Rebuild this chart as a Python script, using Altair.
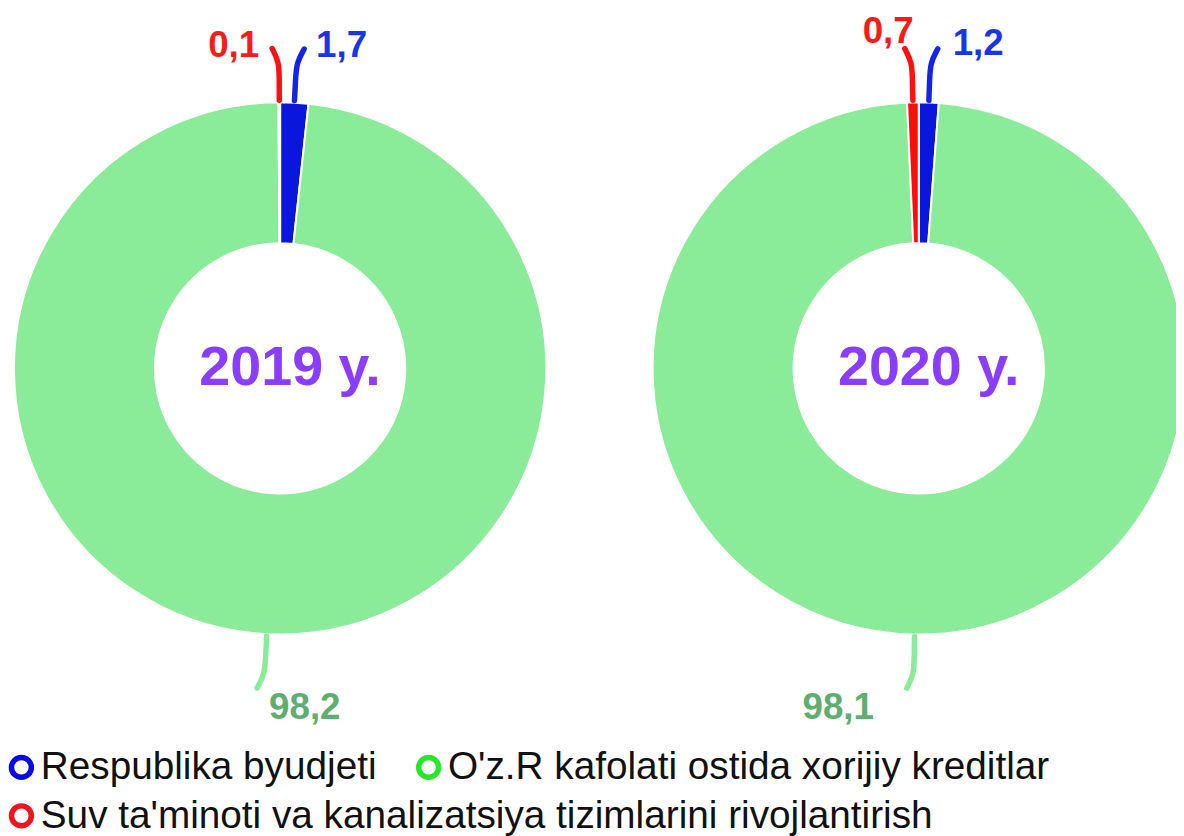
import math
import altair as alt
import pandas as pd

# ---------------- data ----------------
years = ["2019 y.", "2020 y."]
categories = [
    "Respublika byudjeti",
    "O'z.R kafolati ostida xorijiy kreditlar",
    "Suv ta'minoti va kanalizatsiya tizimlarini rivojlantirish",
]
values_2019 = [1.7, 98.2, 0.1]
values_2020 = [1.2, 98.1, 0.7]
series = [values_2019, values_2020]

# ---------------- layout / style ----------------
W, H = 1176, 828
centers = [(274, 360), (917, 360)]
R_OUT, R_IN = 268, 126
slice_colors = ["#0a16dc", "#8aeb98", "#ff0d0d"]
line_colors = ["#1424e6", "#8aeb98", "#ff1010"]
label_colors = ["#1a35e8", "#5fae70", "#ff1a1a"]
legend_colors = ["#0a0ae6", "#28e628", "#f0141e"]
title_color = "#8a3cff"
FONT = "Liberation Sans"
LEG_FONT_SIZE = 39
# label offset from the end of the leader line: (dx, dy, align)
label_nudge = {
    (0, 0): (12, -3, "left"), (0, 1): (12, 20, "left"), (0, 2): (-13, -3, "right"),
    (1, 0): (15, -5, "left"), (1, 1): (-33, 20, "right"), (1, 2): (9, -17, "right"),
}

# ---------------- derived tables ----------------
arc_rows, line_rows, lab_rows, title_rows = [], [], [], []
for i, vals in enumerate(series):
    cx, cy = centers[i]
    total = sum(vals)
    cum = 0.0
    title_rows.append({"cx": cx, "cy": cy, "txt": years[i]})
    for j, v in enumerate(vals):
        t0 = cum / total * 2 * math.pi
        cum += v
        t1 = cum / total * 2 * math.pi
        arc_rows.append({"cx": cx, "cy": cy, "t0": t0, "t1": t1,
                         "fill": slice_colors[j], "cat": categories[j]})
        m = (t0 + t1) / 2
        ux, uy = math.sin(m), -math.cos(m)
        side = -1 if ux < 0 else 1
        pts = [
            (cx + (R_OUT + 2) * ux, cy + (R_OUT + 2) * uy),
            (cx + (R_OUT + 22) * ux, cy + (R_OUT + 22) * uy),
            (cx + (R_OUT + 40) * ux, cy + (R_OUT + 40) * uy),
            (cx + (R_OUT + 54) * ux + side * 7, cy + (R_OUT + 54) * uy),
        ]
        for k, (px, py) in enumerate(pts):
            line_rows.append({"key": f"{i}-{j}", "pt": k, "px": px, "py": py,
                              "lc": line_colors[j]})
        dx, dy, al = label_nudge[(i, j)]
        ex, ey = pts[-1]
        lab_rows.append({"lx": ex + dx, "ly": ey + dy,
                         "txt": f"{v:.1f}".replace(".", ","),
                         "tc": label_colors[j], "al": al})

arc_df = pd.DataFrame(arc_rows)
line_df = pd.DataFrame(line_rows)
lab_df = pd.DataFrame(lab_rows)
title_df = pd.DataFrame(title_rows)
leg_df = pd.DataFrame({"cat": categories, "lx": [-500] * 3, "ly": [-500] * 3,
                       "row": [0, 0, 1]})

xs = alt.Scale(domain=[0, W], nice=False, zero=False)
ys = alt.Scale(domain=[0, H], nice=False, zero=False, reverse=True)


def X(f):
    return alt.X(f"{f}:Q", scale=xs, axis=None)


def Y(f):
    return alt.Y(f"{f}:Q", scale=ys, axis=None)


arcs = alt.Chart(arc_df).mark_arc(
    radius=R_OUT, radius2=R_IN, stroke="white", strokeWidth=2, clip=True
).encode(
    x=X("cx"), y=Y("cy"),
    theta=alt.Theta("t0:Q", scale=None), theta2="t1:Q",
    fill=alt.Fill("fill:N", scale=None),
)

lines = alt.Chart(line_df).mark_line(
    interpolate="basis", strokeWidth=5.5, strokeCap="round"
).encode(
    x=X("px"), y=Y("py"), detail="key:N", order="pt:Q",
    stroke=alt.Stroke("lc:N", scale=None),
)


def label_layer(al):
    return alt.Chart(lab_df).transform_filter(alt.datum.al == al).mark_text(
        font=FONT, fontSize=37, fontWeight="bold", align=al, baseline="middle"
    ).encode(x=X("lx"), y=Y("ly"), text="txt:N", fill=alt.Fill("tc:N", scale=None))


titles = alt.Chart(title_df).mark_text(
    font=FONT, fontSize=56, fontWeight="bold", color=title_color,
    align="center", baseline="middle", dx=10
).encode(x=X("cx"), y=Y("cy"), text="txt:N")


def make_legend(y_pos):
    return alt.Legend(
        title=None, orient="none", legendX=-6, legendY=y_pos,
        direction="horizontal",
        labelFont=FONT, labelFontSize=LEG_FONT_SIZE, labelColor="#111111",
        labelLimit=2000, symbolType="circle", symbolSize=400,
        symbolStrokeWidth=5.5, labelOffset=0, columnPadding=30, padding=0,
    )


legend_a = alt.Chart(leg_df).transform_filter(alt.datum.row == 0).mark_point(
    filled=False, clip=True, strokeWidth=5, opacity=1
).encode(
    x=X("lx"), y=Y("ly"),
    color=alt.Color(
        "cat:N",
        scale=alt.Scale(domain=categories[:2], range=legend_colors[:2]),
        legend=make_legend(742),
    ),
)

legend_b = alt.Chart(leg_df).transform_filter(alt.datum.row == 1).mark_point(
    filled=False, clip=True, strokeWidth=5, opacity=1
).encode(
    x=X("lx"), y=Y("ly"),
    stroke=alt.Stroke(
        "cat:N",
        scale=alt.Scale(domain=categories[2:], range=legend_colors[2:]),
        legend=make_legend(791),
    ),
)

chart = alt.layer(
    arcs, lines, label_layer("left"), label_layer("right"), titles,
    legend_a, legend_b
).resolve_scale(
    fill="independent", stroke="independent", color="independent"
).properties(
    width=W, height=H, padding=0, autosize=alt.AutoSizeParams(type="none")
).configure_view(stroke=None)

chart.save("out.html", embed_options={"renderer": "svg", "actions": False})
